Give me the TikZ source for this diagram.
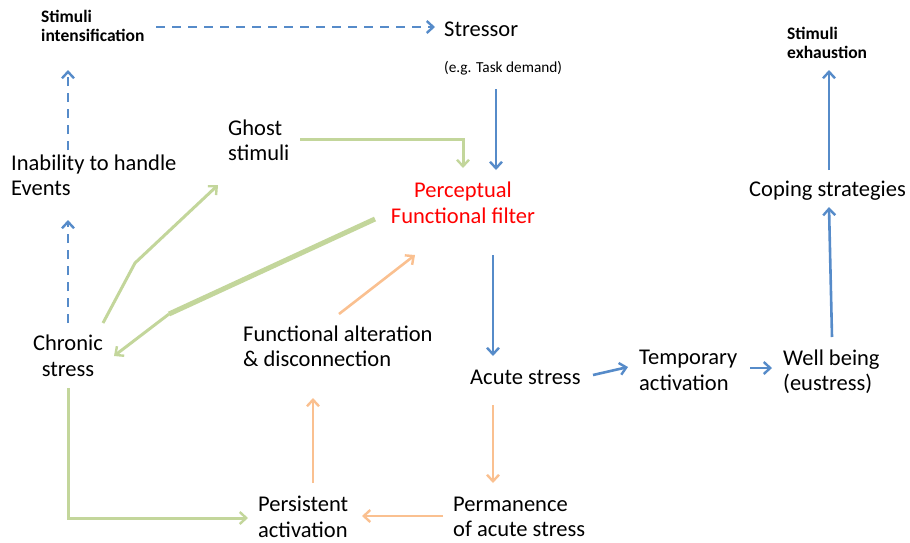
\documentclass[tikz,border=0pt]{standalone}
\usepackage{fontspec}
\setmainfont{Carlito}
\usetikzlibrary{arrows.meta,calc}
\definecolor{cblue}{RGB}{86,139,201}
\definecolor{cgreen}{RGB}{195,214,155}
\definecolor{corange}{RGB}{250,192,144}
\definecolor{cred}{RGB}{255,0,0}
\tikzset{
  lbl/.style={inner sep=0pt, align=left, font=\fontsize{22.5}{25.5}\selectfont},
  small/.style={inner sep=0pt, align=left, font=\fontsize{15.3}{18}\selectfont},
  boldlbl/.style={inner sep=0pt, align=left, font=\fontsize{17.5}{19.5}\selectfont\bfseries},
  tip/.style={-{Straight Barb[length=6.5pt,width=12pt,line width=2.4pt]}},
  bluearr/.style={tip, draw=cblue, line width=2.6pt},
  bluedash/.style={tip, draw=cblue, line width=2.8pt, dash pattern=on 9pt off 7pt},
  greenarr/.style={tip, draw=cgreen, line width=3pt},
  greenline/.style={draw=cgreen, line width=3pt, line cap=round},
  greenthick/.style={draw=cgreen, line width=5pt},
  orangearr/.style={tip, draw=corange, line width=2.6pt},
}
\begin{document}
\begin{tikzpicture}[x=1pt,y=-1pt]
\useasboundingbox (0,0) rectangle (910,542);
% nodes
\node[boldlbl, anchor=west] (si) at (41,26) {Stimuli\\intensification};
\node[lbl, anchor=west] (stressor) at (444,29) {Stressor};
\node[small, anchor=west] (eg) at (444,68) {(e.g. Task demand)};
\node[lbl, anchor=west] (ghost) at (228,140.5) {Ghost\\stimuli};
\node[lbl, align=center, text=cred] (perc) at (463,203) {Perceptual\\Functional filter};
\node[lbl, anchor=west] (inab) at (11,175.5) {Inability to handle\\Events};
\node[lbl, align=center] (chronic) at (68,356) {Chronic\\stress};
\node[lbl, anchor=west] (func) at (243,346.5) {Functional alteration\\\& disconnection};
\node[lbl, anchor=west] (acute) at (470,377) {Acute stress};
\node[lbl, anchor=west] (temp) at (639,370.5) {Temporary\\activation};
\node[lbl, anchor=west] (well) at (783,371.5) {Well being\\(eustress)};
\node[lbl, anchor=west] (coping) at (749,191) {Coping strategies};
\node[boldlbl, anchor=west] (exh) at (787,43) {Stimuli\\exhaustion};
\node[lbl, anchor=west] (persist) at (258,517) {Persistent\\activation};
\node[lbl, anchor=west] (perm) at (453,517) {Permanence\\of acute stress};
% connectors
\draw[bluedash] ($(si.west)+(115,1)$) -- ($(stressor.west)+(-9,-2)$);
\draw[bluedash] ($(inab.west)+(57,-25.5)$) -- ($(si.west)+(27,44)$);
\draw[bluedash] ($(chronic)+(0,-33)$) -- ($(inab.west)+(57,44.5)$);
\draw[bluearr] ($(eg.west)+(52,21)$) -- ($(perc)+(33,-33)$);
\draw[greenarr] ($(ghost.west)+(72,-1.5)$) -| ($(perc)+(0,-35)$);
\draw[bluearr] ($(perc)+(30,52)$) -- ($(acute.west)+(23,-21)$);
\draw[bluearr] ($(acute.west)+(123,-2)$) -- ($(temp.west)+(-11,-3.5)$);
\draw[bluearr] ($(temp.west)+(111,-2.5)$) -- ($(well.west)+(-11,-3.5)$);
\draw[bluearr] ($(well.west)+(49,-34.5)$) -- ($(coping.west)+(80,16)$);
\draw[bluearr] ($(coping.west)+(80,-21)$) -- ($(exh.west)+(42,27)$);
\draw[greenarr] ($(chronic)+(35,-33)$) -- ($(chronic)+(67,-93)$) -- ($(ghost.west)+(-10,44.5)$);
\draw[greenthick] ($(perc)+(-88,16)$) -- ($(chronic)+(101,-42)$);
\draw[greenarr] ($(chronic)+(101,-42)$) -- ($(chronic)+(46,0)$);
\draw[orangearr] ($(func.west)+(96,-32.5)$) -- ($(perc)+(-48,52)$);
\draw[greenarr] ($(chronic)+(0,32)$) |- ($(persist.west)+(-10,1)$);
\draw[orangearr] ($(persist.west)+(55,-34)$) -- ($(func.west)+(70,51.5)$);
\draw[orangearr] ($(acute.west)+(23,28)$) -- ($(perm.west)+(40,-34)$);
\draw[orangearr] ($(perm.west)+(-10,-1)$) -- ($(persist.west)+(104,-1)$);
\end{tikzpicture}
\end{document}
